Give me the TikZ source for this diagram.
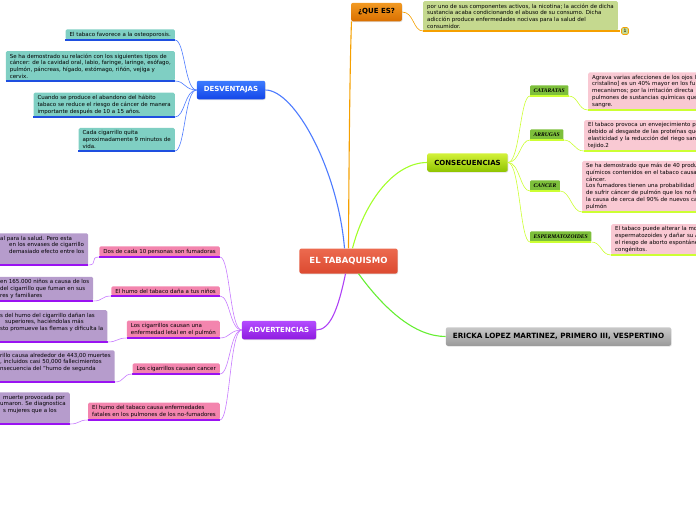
\documentclass[tikz,border=0pt]{standalone}
\usepackage{fontspec}
\setmainfont{DejaVu Sans}
\newfontfamily\tagfont{Liberation Serif}
\usepackage{xcolor}
\usetikzlibrary{positioning,shadows}

\definecolor{tabtop}{HTML}{EC6A4F}
\definecolor{tabbot}{HTML}{DC4A30}
\definecolor{desvtop}{HTML}{3D7BFF}
\definecolor{desvbot}{HTML}{1346E8}
\definecolor{quetop}{HTML}{F29A22}
\definecolor{quebot}{HTML}{D96F00}
\definecolor{constop}{HTML}{D4F23A}
\definecolor{consbot}{HTML}{8FC400}
\definecolor{advtop}{HTML}{B44CFF}
\definecolor{advbot}{HTML}{8E1BE0}
\definecolor{autortop}{HTML}{C8C8C8}
\definecolor{autorbot}{HTML}{9A9A9A}
\definecolor{tealbox}{HTML}{7FCFC3}
\definecolor{tealline}{HTML}{1E4FE0}
\definecolor{desvlink}{HTML}{4D7BFF}
\definecolor{olivebox}{HTML}{C5D98F}
\definecolor{queline}{HTML}{F5A000}
\definecolor{tagfill}{HTML}{7DBF3B}
\definecolor{consline}{HTML}{CCFF33}
\definecolor{pinkbox}{HTML}{F9C9D3}
\definecolor{advbox}{HTML}{F385AE}
\definecolor{advline}{HTML}{9A12F2}
\definecolor{advlink}{HTML}{C77BFF}
\definecolor{lilacbox}{HTML}{B69CCC}
\definecolor{autorlink}{HTML}{66EE33}

\begin{document}
\begin{tikzpicture}[
    x=1pt, y=-1pt,
    root/.style={top color=tabtop, bottom color=tabbot, text=white, font=\fontsize{8.5}{10}\selectfont\bfseries, rounded corners=2pt, minimum height=25pt, inner xsep=10pt, drop shadow={opacity=0.25, shadow xshift=0.6pt, shadow yshift=-0.8pt}},
    mainbox/.style={rounded corners=2pt, font=\fontsize{7}{8}\selectfont\bfseries, minimum height=18.5pt, inner xsep=7pt, drop shadow={opacity=0.25, shadow xshift=0.6pt, shadow yshift=-0.8pt}},
    desc/.style={rounded corners=1.5pt, font=\fontsize{5.5}{6.7}\selectfont, align=left, inner xsep=4pt, inner ysep=2.6pt},
    tagbox/.style={rounded corners=1pt, fill=tagfill, font=\fontsize{5.6}{6.5}\selectfont\tagfont\bfseries\itshape, minimum height=10.5pt, inner xsep=3.5pt, inner ysep=1pt},
    ul/.style={line width=1.8pt},
    branch/.style={line width=1.1pt},
    link/.style={line width=0.6pt}
]
\useasboundingbox (0,0) rectangle (696,520);
\clip (0,0) rectangle (696,520);

% --- Centre and main branches ---
\node[root] (tab) at (348.5,261) {EL TABAQUISMO};
\node[mainbox, top color=desvtop, bottom color=desvbot, text=white] (desv) at (231,90) {DESVENTAJAS};
\node[mainbox, top color=quetop, bottom color=quebot] (que) at (376.5,12) {¿QUE ES?};
\node[mainbox, top color=constop, bottom color=consbot] (cons) at (467.5,162.5) {CONSECUENCIAS};
\node[mainbox, top color=advtop, bottom color=advbot, text=white] (adv) at (279,330) {ADVERTENCIAS};
\node[mainbox, top color=autortop, bottom color=autorbot, font=\fontsize{7.2}{8}\selectfont\bfseries] (autor) at (558.5,336.5) {ERICKA LOPEZ MARTINEZ, PRIMERO III, VESPERTINO};

\draw[branch, desvlink] ([xshift=-4pt]tab.north) .. controls (338,170) and (295,90) .. (desv.east);
\draw[branch, queline] (tab.north) .. controls (349,150) and (350,60) .. ([xshift=-25pt]que.south);
\draw[branch, consline!80!green] ([xshift=4pt]tab.north) .. controls (365,200) and (395,162.5) .. (cons.west);
\draw[branch, advline!80] ([xshift=-3pt]tab.south) .. controls (338,310) and (330,330) .. (adv.east);
\draw[branch, autorlink] ([xshift=10pt]tab.south) .. controls (385,310) and (415,336.5) .. (autor.west);

% --- DESVENTAJAS: teal notes ---
\node[desc, fill=tealbox, anchor=south east] (d1) at (175,40) {El tabaco favorece a la osteoporosis.};
\node[desc, fill=tealbox, anchor=south east] (d2) at (175,81) {Se ha demostrado su relación con los siguientes tipos de\\cáncer: de la cavidad oral, labio, faringe, laringe, esófago,\\pulmón, páncreas, hígado, estómago, riñón, vejiga y\\cervix.};
\node[desc, fill=tealbox, anchor=south east] (d3) at (175,117) {Cuando se produce el abandono del hábito\\tabaco se reduce el riesgo de cáncer de manera\\importante después de 10 a 15 años.};
\node[desc, fill=tealbox, anchor=south east] (d4) at (175,151) {Cada cigarrillo quita\\aproximadamente 9 minutos de\\vida.};

\draw[ul, tealline] (d1.south west) -- (d1.south east);
\draw[ul, tealline] (d2.south west) -- (d2.south east);
\draw[ul, tealline] (d3.south west) -- (d3.south east);
\draw[ul, tealline] (d4.south west) -- (d4.south east);

\draw[link, desvlink] (desv.west) .. controls +(-12,0) and +(10,0) .. (d1.south east);
\draw[link, desvlink] (desv.west) .. controls +(-12,0) and +(10,0) .. (d2.south east);
\draw[link, desvlink] (desv.west) .. controls +(-12,0) and +(10,0) .. (d3.south east);
\draw[link, desvlink] (desv.west) .. controls +(-12,0) and +(10,0) .. (d4.south east);

% --- ¿QUE ES?: definition ---
\node[desc, fill=olivebox, anchor=south west] (q1) at (423,31) {por uno de sus componentes activos, la nicotina; la acción de dicha\\sustancia acaba condicionando el abuso de su consumo. Dicha\\adicción produce enfermedades nocivas para la salud del\\consumidor.};
\draw[ul, queline] (q1.south west) -- ([xshift=2pt]q1.south east);
\node[fill=olivebox, draw=queline, semithick, rounded corners=1.5pt, font=\fontsize{4.5}{5}\selectfont, inner sep=1pt, minimum size=7pt] (nota) at (625,31) {1};
\draw[link, queline] (que.east) .. controls +(12,0) and +(-10,0) .. (q1.south west);

% --- CONSECUENCIAS: tags and pink notes ---
\node[tagbox, anchor=south west] (t1) at (530,96) {CATARATAS};
\node[tagbox, anchor=south west] (t2) at (530,140) {ARRUGAS};
\node[tagbox, anchor=south west] (t3) at (530,191) {CANCER};
\node[tagbox, anchor=south west] (t4) at (530,242) {ESPERMATOZOIDES};

\node[desc, fill=pinkbox, anchor=south west, text width=120pt] (p1) at (588,110) {Agrava varias afecciones de los ojos l\\cristalino] es un 40\% mayor en los fu\\mecanismos; por la irritación directa\\pulmones de sustancias químicas que\\sangre.};
\node[desc, fill=pinkbox, anchor=south west, text width=120pt] (p2) at (584,151) {El tabaco provoca un envejecimiento p\\debido al desgaste de las proteínas que\\elasticidad y la reducción del riego san\\tejido.2};
\node[desc, fill=pinkbox, anchor=south west, text width=120pt] (p3) at (582,212) {Se ha demostrado que más de 40 produ\\químicos contenidos en el tabaco causa\\cáncer.\\Los fumadores tienen una probabilidad\\de sufrir cáncer de pulmón que los no fu\\la causa de cerca del 90\% de nuevos ca\\pulmón};
\node[desc, fill=pinkbox, anchor=south west, text width=120pt] (p4) at (611,255) {El tabaco puede alterar la mo\\espermatozoides y dañar su A\\el riesgo de aborto espontáne\\congénitos.};

\draw[ul, consline] (t1.south west) -- (t1.south east);
\draw[ul, consline] (t2.south west) -- (t2.south east);
\draw[ul, consline] (t3.south west) -- (t3.south east);
\draw[ul, consline] (t4.south west) -- (t4.south east);
\draw[ul, consline] (p1.south west) -- (p1.south east);
\draw[ul, consline] (p2.south west) -- (p2.south east);
\draw[ul, consline] (p3.south west) -- (p3.south east);
\draw[ul, consline] (p4.south west) -- (p4.south east);

\draw[link, consline] (cons.east) .. controls +(12,0) and +(-10,0) .. (t1.south west);
\draw[link, consline] (cons.east) .. controls +(12,0) and +(-10,0) .. (t2.south west);
\draw[link, consline] (cons.east) .. controls +(12,0) and +(-10,0) .. (t3.south west);
\draw[link, consline] (cons.east) .. controls +(12,0) and +(-10,0) .. (t4.south west);
\draw[link, consline] (t1.south east) .. controls +(10,0) and +(-10,0) .. (p1.south west);
\draw[link, consline] (t2.south east) .. controls +(10,0) and +(-10,0) .. (p2.south west);
\draw[link, consline] (t3.south east) .. controls +(10,0) and +(-10,0) .. (p3.south west);
\draw[link, consline] (t4.south east) .. controls +(10,0) and +(-10,0) .. (p4.south west);

% --- ADVERTENCIAS: pink warnings and lilac notes ---
\node[desc, fill=advbox, anchor=south east] (a1) at (220,257) {Dos de cada 10 personas son fumadoras};
\node[desc, fill=advbox, anchor=south east] (a2) at (220,296) {El humo del tabaco daña a tus niños};
\node[desc, fill=advbox, anchor=south east] (a3) at (220,338) {Los cigarrillos causan una\\enfermedad letal en el pulmón};
\node[desc, fill=advbox, anchor=south east] (a4) at (220,374) {Los cigarrillos causan cancer};
\node[desc, fill=advbox, anchor=south east] (a5) at (220,420) {El humo del tabaco causa enfermedades\\fatales en los pulmones de los no-fumadores};

\node[desc, fill=lilacbox, anchor=south west] (b1) at (-4,265) {al para la salud. Pero esta\\\hspace*{9pt}en los envases de cigarrillo\\\hspace*{9pt}demasiado efecto entre los\\\strut};
\node[desc, fill=lilacbox, anchor=south west] (b2) at (-4,301) {en 165.000 niños a causa de los\\del cigarrillo que fuman en sus\\res y familiares};
\node[desc, fill=lilacbox, anchor=south west] (b3) at (-4,342) {s del humo del cigarrillo dañan las\\\hspace*{5pt}superiores, haciéndolas más\\sto promueve las flemas y dificulta la\\\strut};
\node[desc, fill=lilacbox, anchor=south west] (b4) at (-4,382) {rillo causa alrededor de 443,00 muertes\\, incluidos casi 50,000 fallecimientos\\nsecuencia del "humo de segunda\\\strut};
\node[desc, fill=lilacbox, anchor=south west] (b5) at (-4,424) {\hspace*{3pt}muerte provocada por\\umaron. Se diagnostica\\\hspace*{3pt}s mujeres que a los\\\strut};

\draw[ul, advline] (a1.south west) -- (a1.south east);
\draw[ul, advline] (a2.south west) -- (a2.south east);
\draw[ul, advline] (a3.south west) -- (a3.south east);
\draw[ul, advline] (a4.south west) -- (a4.south east);
\draw[ul, advline] (a5.south west) -- (a5.south east);
\draw[ul, advline] (b1.south west) -- (b1.south east);
\draw[ul, advline] (b2.south west) -- (b2.south east);
\draw[ul, advline] (b3.south west) -- (b3.south east);
\draw[ul, advline] (b4.south west) -- (b4.south east);
\draw[ul, advline] (b5.south west) -- (b5.south east);

\draw[link, advlink] (adv.west) .. controls +(-12,0) and +(10,0) .. (a1.south east);
\draw[link, advlink] (adv.west) .. controls +(-12,0) and +(10,0) .. (a2.south east);
\draw[link, advlink] (adv.west) .. controls +(-12,0) and +(10,0) .. (a3.south east);
\draw[link, advlink] (adv.west) .. controls +(-12,0) and +(10,0) .. (a4.south east);
\draw[link, advlink] (adv.west) .. controls +(-12,0) and +(10,0) .. (a5.south east);
\draw[link, advlink] (b1.south east) .. controls +(10,0) and +(-10,0) .. (a1.south west);
\draw[link, advlink] (b2.south east) .. controls +(10,0) and +(-10,0) .. (a2.south west);
\draw[link, advlink] (b3.south east) .. controls +(10,0) and +(-10,0) .. (a3.south west);
\draw[link, advlink] (b4.south east) .. controls +(10,0) and +(-10,0) .. (a4.south west);
\draw[link, advlink] (b5.south east) .. controls +(10,0) and +(-10,0) .. (a5.south west);
\end{tikzpicture}
\end{document}
